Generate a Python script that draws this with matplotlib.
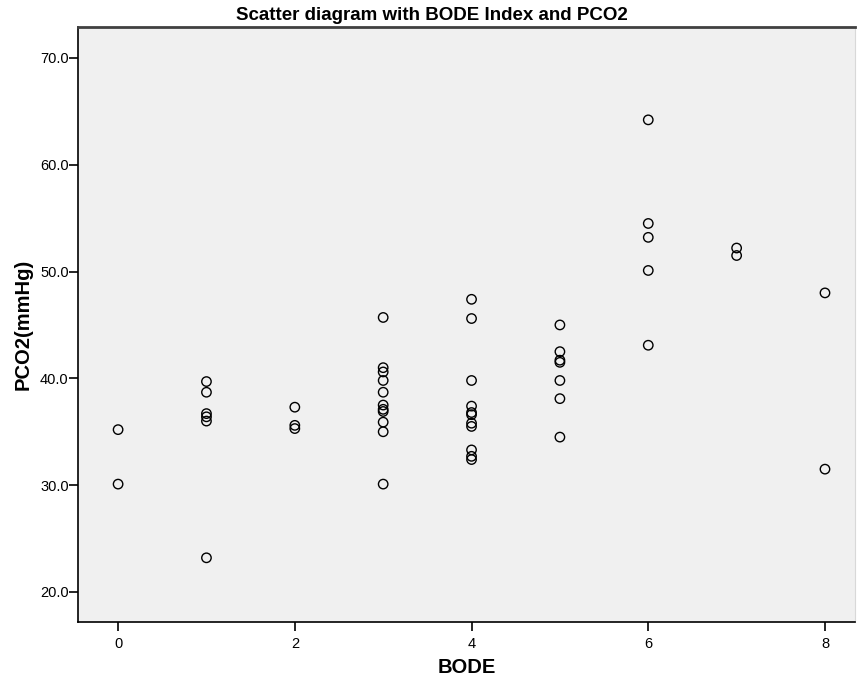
import matplotlib
matplotlib.use("Agg")
import matplotlib.pyplot as plt

plt.rcParams['font.family'] = ['Liberation Sans', 'DejaVu Sans']

title = "Scatter diagram with BODE Index and PCO2"
x_label = "BODE"
y_label = "PCO2(mmHg)"

bode = [0, 0,
        1, 1, 1, 1, 1, 1,
        2, 2, 2,
        3, 3, 3, 3, 3, 3, 3, 3, 3, 3, 3,
        4, 4, 4, 4, 4, 4, 4, 4, 4, 4, 4,
        5, 5, 5, 5, 5, 5, 5,
        6, 6, 6, 6, 6,
        7, 7,
        8, 8]
pco2 = [35.2, 30.1,
        39.7, 38.7, 36.7, 36.4, 36.0, 23.2,
        37.3, 35.6, 35.3,
        45.7, 41.0, 40.6, 39.8, 38.7, 37.5, 37.1, 36.9, 35.9, 35.0, 30.1,
        47.4, 45.6, 39.8, 37.4, 36.8, 36.6, 35.8, 35.5, 33.3, 32.7, 32.4,
        45.0, 42.5, 41.7, 41.5, 39.8, 38.1, 34.5,
        64.2, 54.5, 53.2, 50.1, 43.1,
        52.2, 51.5,
        48.0, 31.5]

x_ticks = [0, 2, 4, 6, 8]
y_ticks = [20, 30, 40, 50, 60, 70]

fig = plt.figure(figsize=(8.57, 6.81), dpi=100)
ax = fig.add_axes([0.0914, 0.0871, 0.9063, 0.8729])
ax.set_facecolor('#f0f0f0')

ax.scatter(bode, pco2, s=46, facecolors='none', edgecolors='black', linewidths=1.0, zorder=3)

ax.set_xlim(-0.45, 8.34)
ax.set_ylim(17.22, 72.87)
ax.set_xticks(x_ticks)
ax.set_xticklabels([str(v) for v in x_ticks])
ax.set_yticks(y_ticks)
ax.set_yticklabels([f"{v:.1f}" for v in y_ticks])
ax.tick_params(axis='both', direction='out', length=6.5, width=1.2, labelsize=10.5, color='black')
ax.tick_params(axis='x', pad=4.5)
ax.tick_params(axis='y', pad=0.5)

for side in ['left', 'bottom']:
    ax.spines[side].set_color('black')
    ax.spines[side].set_linewidth(1.2)
ax.spines['top'].set_color('#404040')
ax.spines['top'].set_linewidth(2)
ax.spines['right'].set_color('#d8d8d8')
ax.spines['right'].set_linewidth(0.8)

ax.set_xlabel(x_label, fontsize=14.5, fontweight='bold')
ax.xaxis.set_label_coords(0.5, -0.061)
ax.set_ylabel(y_label, fontsize=14.5, fontweight='bold')
ax.yaxis.label.set_va('center')
ax.yaxis.set_label_coords(-0.0712, 0.5)
fig.text(0.504, 0.970, title, ha='center', va='baseline', fontsize=13.5, fontweight='bold')

fig.savefig("out.png", dpi=100)
